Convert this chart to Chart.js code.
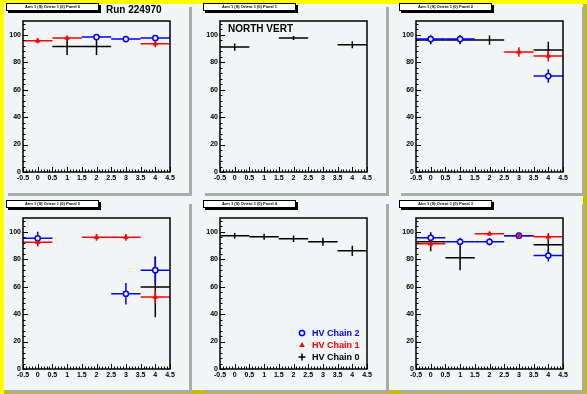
<!DOCTYPE html>
<html><head><meta charset="utf-8">
<script src="https://cdn.jsdelivr.net/npm/chart.js@4/dist/chart.umd.min.js"></script>
<style>
html,body{margin:0;padding:0;background:#f1f5f5;}
#cv{position:relative;width:587px;height:394px;background:#f1f5f5;overflow:hidden;
 box-shadow:inset 4px 4px 0 #ffff00, inset -4px -4px 0 #c0c000;}
.pad{position:absolute;width:184px;height:189px;background:#f1f5f5;box-shadow:3px 3px 0 #ababab;}
.pad canvas{position:absolute;left:0;top:0;}
.tbox{position:absolute;left:1px;top:-1px;width:91px;height:6px;background:#fff;border:1px solid #000;
 box-shadow:2px 2px 0 #000;font:bold 4px "Liberation Sans",Arial,sans-serif;line-height:6px;text-align:center;color:#000;white-space:nowrap;}
.big{position:absolute;font:bold 10px "Liberation Sans",Arial,sans-serif;color:#000;white-space:nowrap;}
</style></head><body>
<div id="cv"></div>
<script>
// ---- data ----
const bins = [0, 1, 2, 3, 4];
const xTickValues = [-0.5, 0, 0.5, 1, 1.5, 2, 2.5, 3, 3.5, 4, 4.5];
const xTickLabels = ['-0.5','0','0.5','1','1.5','2','2.5','3','3.5','4','4.5'];
const yTickValues = [0, 20, 40, 60, 80, 100];
const yTickLabels = ['0','20','40','60','80','100'];
const chainLabels = ['HV Chain 0', 'HV Chain 1', 'HV Chain 2'];
const panelTitles = ['Arm 1 (S) Orient 1 (0) Panel 0','Arm 1 (S) Orient 1 (0) Panel 1','Arm 1 (S) Orient 1 (0) Panel 2',
                     'Arm 1 (S) Orient 1 (0) Panel 5','Arm 1 (S) Orient 1 (0) Panel 4','Arm 1 (S) Orient 1 (0) Panel 3'];

// Panel 0
const p0_chain0 = [null, 91.5, 91.5, null, null];
const p0_chain0_err = [null, 6.3, 6.3, null, null];
const p0_chain1 = [95.6, 97.6, null, null, 93.4];
const p0_chain1_err = [2.0, 1.5, null, null, 2.6];
const p0_chain2 = [null, null, 98.3, 96.8, 97.6];
const p0_chain2_err = [null, null, 1.0, 1.0, 1.0];
// Panel 1
const p1_chain0 = [91.0, null, 97.6, null, 92.7];
const p1_chain0_err = [2.7, null, 1.5, null, 2.5];
const p1_chain1 = [null, null, null, null, null];
const p1_chain1_err = [null, null, null, null, null];
const p1_chain2 = [null, null, null, null, null];
const p1_chain2_err = [null, null, null, null, null];
// Panel 2
const p2_chain0 = [96.1, 96.1, 96.1, null, 88.8];
const p2_chain0_err = [3.0, 3.0, 3.4, null, 6.0];
const p2_chain1 = [null, null, null, 87.4, 84.5];
const p2_chain1_err = [null, null, null, 3.5, 4.0];
const p2_chain2 = [96.8, 96.8, null, null, 69.9];
const p2_chain2_err = [3.0, 3.0, null, null, 4.9];
// Panel 5
const p5_chain0 = [null, null, null, null, 59.7];
const p5_chain0_err = [null, null, null, null, 22.0];
const p5_chain1 = [92.3, null, 95.9, 95.9, 52.4];
const p5_chain1_err = [3.0, null, 2.4, 2.4, 4.8];
const p5_chain2 = [95.2, null, null, 54.8, 72.0];
const p5_chain2_err = [4.7, null, null, 7.8, 9.9];
// Panel 4
const p4_chain0 = [97.1, 96.3, 94.9, 92.7, 86.1];
const p4_chain0_err = [2.0, 2.2, 2.4, 3.0, 3.7];
const p4_chain1 = [null, null, null, null, null];
const p4_chain1_err = [null, null, null, null, null];
const p4_chain2 = [null, null, null, null, null];
const p4_chain2_err = [null, null, null, null, null];
// Panel 3
const p3_chain0 = [92.7, 81.0, null, null, 90.5];
const p3_chain0_err = [7.0, 9.0, null, null, 5.4];
const p3_chain1 = [91.2, null, 98.5, 97.1, 96.3];
const p3_chain1_err = [2.5, null, 1.5, 1.5, 2.7];
const p3_chain2 = [95.6, 92.7, 92.7, 97.1, 82.7];
const p3_chain2_err = [2.6, 3.0, 2.8, 1.8, 4.3];

// ---- layout ----
const PAD_BG = '#f1f5f5';
const chainColors = ['#000000', '#ff0000', '#0000ff'];
const padPos = [[5,4],[202,4],[398,4],[5,201],[202,201],[398,201]];
const panels = [
  [p0_chain0,p0_chain0_err,p0_chain1,p0_chain1_err,p0_chain2,p0_chain2_err],
  [p1_chain0,p1_chain0_err,p1_chain1,p1_chain1_err,p1_chain2,p1_chain2_err],
  [p2_chain0,p2_chain0_err,p2_chain1,p2_chain1_err,p2_chain2,p2_chain2_err],
  [p5_chain0,p5_chain0_err,p5_chain1,p5_chain1_err,p5_chain2,p5_chain2_err],
  [p4_chain0,p4_chain0_err,p4_chain1,p4_chain1_err,p4_chain2,p4_chain2_err],
  [p3_chain0,p3_chain0_err,p3_chain1,p3_chain1_err,p3_chain2,p3_chain2_err]
];
const FONT = '"Liberation Sans", Arial, sans-serif';

function pts(vals, errs){
  const out=[];
  bins.forEach((b,i)=>{ if(vals[i]!==null) out.push({x:b,y:vals[i],e:errs[i]}); });
  return out;
}

const errPlugin = {
  id:'errbars',
  beforeDatasetsDraw(chart){
    const {ctx, chartArea:a, scales:{x,y}} = chart;
    ctx.save();
    ctx.beginPath(); ctx.rect(a.left,a.top,a.right-a.left,a.bottom-a.top); ctx.clip();
    ctx.lineWidth = 1.5;
    chart.data.datasets.forEach(ds=>{
      ctx.strokeStyle = ds.borderColor;
      ds.data.forEach(p=>{
        const px=x.getPixelForValue(p.x), py=y.getPixelForValue(p.y);
        ctx.beginPath();
        ctx.moveTo(x.getPixelForValue(p.x-0.5),py); ctx.lineTo(x.getPixelForValue(p.x+0.5),py);
        ctx.moveTo(px,y.getPixelForValue(p.y-p.e)); ctx.lineTo(px,y.getPixelForValue(p.y+p.e));
        ctx.stroke();
      });
    });
    ctx.restore();
  },
  afterDraw(chart){
    const {ctx, chartArea:a, scales:{x,y}} = chart;
    ctx.save();
    ctx.strokeStyle='#000'; ctx.lineWidth=1.5;
    ctx.strokeRect(a.left, a.top, a.right-a.left, a.bottom-a.top);
    ctx.lineWidth=1;
    ctx.beginPath();
    for(let v=0; v<=110; v+=4){
      const py=Math.round(y.getPixelForValue(v))+0.5;
      const len = (v%20===0)?5:2.5;
      ctx.moveTo(a.left,py); ctx.lineTo(a.left+len,py);
    }
    for(let i=-5;i<=45;i++){
      const px=Math.round(x.getPixelForValue(i/10))+0.5;
      const len = (i%5===0)?5:2.5;
      ctx.moveTo(px,a.bottom); ctx.lineTo(px,a.bottom-len);
    }
    ctx.stroke();
    ctx.restore();
  }
};

const legendPlugin = {
  id:'rootLegend',
  afterDraw(chart){
    if(!chart.options.plugins.rootLegend || !chart.options.plugins.rootLegend.show) return;
    const {ctx, chartArea:a} = chart;
    ctx.save();
    ctx.font = 'bold 9px '+FONT; ctx.textBaseline='middle';
    const order=[2,1,0];
    order.forEach((c,k)=>{
      const my = a.top+115+k*12, mx = a.left+82;
      ctx.strokeStyle=chainColors[c]; ctx.fillStyle=chainColors[c]; ctx.lineWidth=1.5;
      if(c===2){ ctx.beginPath(); ctx.arc(mx,my,2.6,0,Math.PI*2); ctx.stroke(); }
      else if(c===1){ ctx.beginPath(); ctx.moveTo(mx,my-3); ctx.lineTo(mx+2.8,my+2); ctx.lineTo(mx-2.8,my+2); ctx.closePath(); ctx.fill(); }
      else { ctx.beginPath(); ctx.moveTo(mx-3.5,my); ctx.lineTo(mx+3.5,my); ctx.moveTo(mx,my-3.5); ctx.lineTo(mx,my+3.5); ctx.stroke(); }
      ctx.fillText(chainLabels[c], a.left+92, my+0.5);
    });
    ctx.restore();
  }
};

const cv = document.getElementById('cv');
panels.forEach((pd, idx)=>{
  const pad = document.createElement('div');
  pad.className='pad'; pad.style.left=padPos[idx][0]+'px'; pad.style.top=padPos[idx][1]+'px';
  const canvas = document.createElement('canvas'); canvas.width=184; canvas.height=189;
  canvas.style.width='184px'; canvas.style.height='189px';
  pad.appendChild(canvas);
  const tb = document.createElement('div'); tb.className='tbox'; tb.textContent=panelTitles[idx];
  pad.appendChild(tb);
  if(idx===0){ const t=document.createElement('div'); t.className='big'; t.style.left='101px'; t.style.top='0px'; t.textContent='Run 224970'; pad.appendChild(t); }
  if(idx===1){ const t=document.createElement('div'); t.className='big'; t.style.left='26px'; t.style.top='19px'; t.textContent='NORTH VERT'; pad.appendChild(t); }
  cv.appendChild(pad);

  const datasets = [0,1,2].map(c=>({
    label: chainLabels[c],
    data: pts(pd[2*c], pd[2*c+1]),
    borderColor: chainColors[c],
    backgroundColor: c===2 ? PAD_BG : chainColors[c],
    pointStyle: c===2 ? 'circle' : 'triangle',
    pointRadius: c===0 ? 0 : (c===2 ? 2.6 : 2.8),
    pointBorderWidth: c===2 ? 1.5 : 0.5,
    showLine:false
  }));

  new Chart(canvas, {
    type:'scatter',
    data:{datasets},
    plugins:[errPlugin, legendPlugin],
    options:{
      responsive:false, animation:false, devicePixelRatio:1,
      layout:{padding:{left:0,top:17,right:19,bottom:0}},
      plugins:{legend:{display:false}, tooltip:{enabled:false}, rootLegend:{show: idx===4}},
      scales:{
        x:{type:'linear', min:-0.5, max:4.5,
           afterBuildTicks:s=>{ s.ticks = xTickValues.map(v=>({value:v})); },
           afterFit:s=>{ s.height=21; },
           ticks:{autoSkip:false, maxRotation:0, padding:2, color:'#000', font:{family:FONT, size:7, weight:'bold'},
                  callback:(v,i)=>xTickLabels[i]},
           grid:{display:false, drawTicks:false}, border:{display:false}},
        y:{type:'linear', min:0, max:110,
           afterBuildTicks:s=>{ s.ticks = yTickValues.map(v=>({value:v})); },
           afterFit:s=>{ s.width=18; },
           ticks:{autoSkip:false, padding:2, color:'#000', font:{family:FONT, size:7, weight:'bold'},
                  callback:(v,i)=>yTickLabels[i]},
           grid:{display:false, drawTicks:false}, border:{display:false}}
      }
    }
  });
});
</script>
</body></html>
